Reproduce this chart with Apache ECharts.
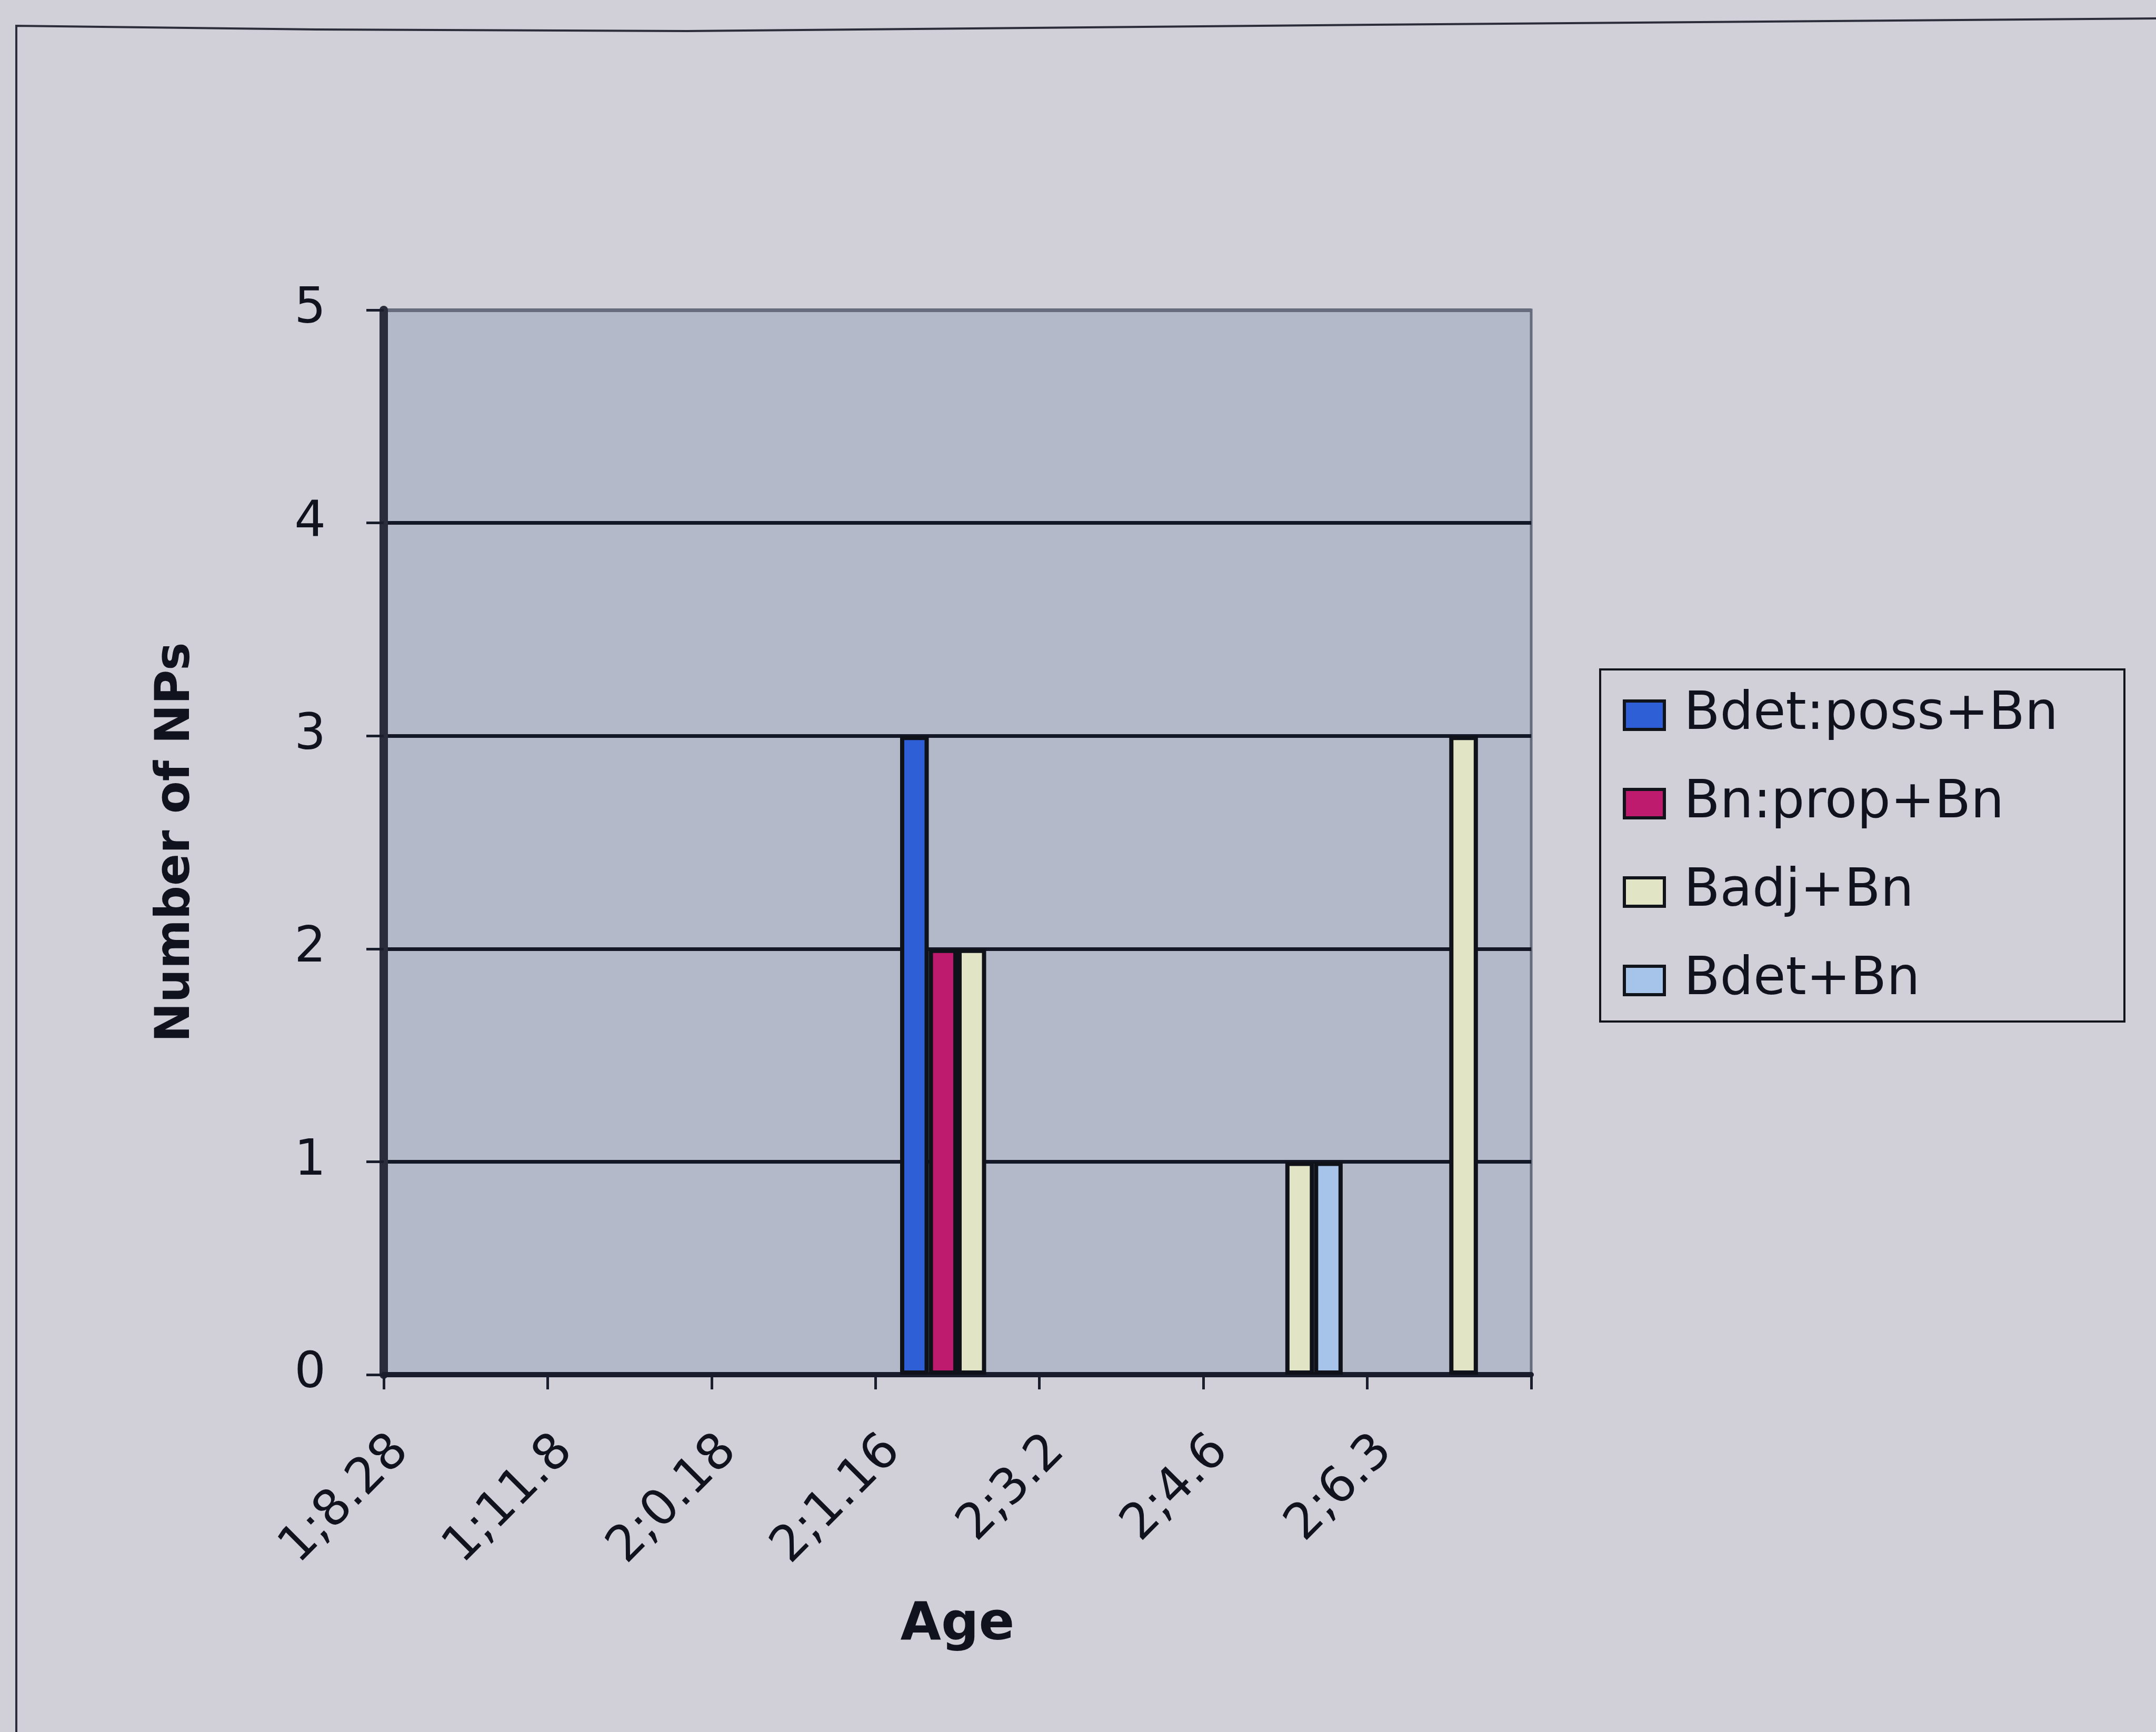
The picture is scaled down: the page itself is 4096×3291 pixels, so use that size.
<!DOCTYPE html>
<html>
<head>
<meta charset="utf-8">
<title>Number of NPs by age</title>
<script src="https://cdn.jsdelivr.net/npm/echarts@6/dist/echarts.min.js"></script>
<style>
  html, body { margin: 0; padding: 0; background: #d1d0d8; }
  #chart { width: 4096px; height: 3291px; }
</style>
</head>
<body>
<div id="chart"></div>
<script>
// Age at recording (years;months.days)
const ages = ['1;8.28', '1;11.8', '2;0.18', '2;1.16', '2;3.2', '2;4.6', '2;6.3'];

// Number of NPs of each structure per recording
const seriesNames = ['Bdet:poss+Bn', 'Bn:prop+Bn', 'Badj+Bn', 'Bdet+Bn'];
const bdetPossBn = [0, 0, 0, 3, 0, 0, 0];
const bnPropBn   = [0, 0, 0, 2, 0, 0, 0];
const badjBn     = [0, 0, 0, 2, 0, 1, 3];
const bdetBn     = [0, 0, 0, 0, 0, 1, 0];

const yMin = 0, yMax = 5, yStep = 1;

const seriesColors = ['#2f5fd6', '#be1a6e', '#e2e4c6', '#a6c3ea'];
const FONT = 'DejaVu Sans';
const INK = '#10131e';

const chart = echarts.init(document.getElementById('chart'), null, { renderer: 'canvas' });

// zero counts are left empty so no bar is drawn
const toBars = arr => arr.map(v => (v === 0 ? '-' : v));

const seriesData = [bdetPossBn, bnPropBn, badjBn, bdetBn];

const option = {
  backgroundColor: '#d1d0d8',
  animation: false,
  graphic: [
    {
      // chart frame (top edge and left edge)
      type: 'polyline',
      silent: true,
      shape: { points: [[31, 3400], [31, 49], [600, 56], [1305, 59], [2610, 47], [4096, 35]] },
      style: { stroke: '#2c2d3a', lineWidth: 4, fill: null }
    },
    {
      // legend frame
      type: 'rect',
      silent: true,
      shape: { x: 3040, y: 1272, width: 996, height: 669 },
      style: { stroke: '#12141c', lineWidth: 4, fill: null }
    }
  ],
  grid: {
    left: 729,
    top: 589,
    width: 2180,
    height: 2023,
    show: true,
    backgroundColor: '#b4b9ca',
    borderColor: '#666c7d',
    borderWidth: 5,
    containLabel: false
  },
  legend: {
    orient: 'vertical',
    left: 3083,
    top: 1309,
    padding: 0,
    itemWidth: 76,
    itemHeight: 54,
    itemGap: 68,
    icon: 'rect',
    selectedMode: false,
    itemStyle: { borderColor: '#12141c', borderWidth: 6 },
    textStyle: {
      fontFamily: FONT,
      fontSize: 100,
      color: INK,
      lineHeight: 100,
      padding: [0, 0, 0, 32]
    },
    data: seriesNames
  },
  xAxis: [
    {
      // bar positions: one slot per recording
      type: 'category',
      data: ages,
      boundaryGap: true,
      position: 'bottom',
      name: 'Age',
      nameLocation: 'middle',
      nameGap: 427,
      nameTextStyle: { fontFamily: FONT, fontWeight: 'bold', fontSize: 100, color: INK },
      axisLine: { show: true, lineStyle: { color: '#1a1e2c', width: 10 } },
      axisTick: { show: true, alignWithLabel: false, length: 28, lineStyle: { color: '#1a1e2c', width: 5 } },
      axisLabel: { show: false },
      splitLine: { show: false }
    },
    {
      // age labels sit on the slot boundaries
      type: 'category',
      data: ages.concat(['']),
      boundaryGap: false,
      position: 'bottom',
      axisLine: { show: false },
      axisTick: { show: false },
      splitLine: { show: false },
      axisLabel: {
        interval: 0,
        rotate: 45,
        margin: 98,
        align: 'right',
        verticalAlign: 'top',
        fontFamily: FONT,
        fontSize: 94,
        color: INK
      }
    }
  ],
  yAxis: {
    type: 'value',
    min: yMin,
    max: yMax,
    interval: yStep,
    name: 'Number of NPs',
    nameLocation: 'middle',
    nameGap: 348,
    nameTextStyle: { fontFamily: FONT, fontWeight: 'bold', fontSize: 90, color: INK },
    axisLine: { show: true, lineStyle: { color: '#2a2c3b', width: 16 } },
    axisTick: { show: true, length: 33, lineStyle: { color: '#1a1e2c', width: 5 } },
    axisLabel: { margin: 110, fontFamily: FONT, fontSize: 94, color: INK },
    splitLine: {
      show: true,
      lineStyle: {
        color: ['#141826', '#141826', '#141826', '#141826', '#141826', '#666c7d'],
        width: 7
      }
    }
  },
  series: seriesNames.map((name, i) => ({
    name: name,
    type: 'bar',
    xAxisIndex: 0,
    yAxisIndex: 0,
    data: toBars(seriesData[i]),
    barGap: '0%',
    barCategoryGap: '30%',
    itemStyle: {
      color: seriesColors[i],
      borderColor: '#10121a',
      borderWidth: 8
    }
  }))
};

chart.setOption(option);
</script>
</body>
</html>
